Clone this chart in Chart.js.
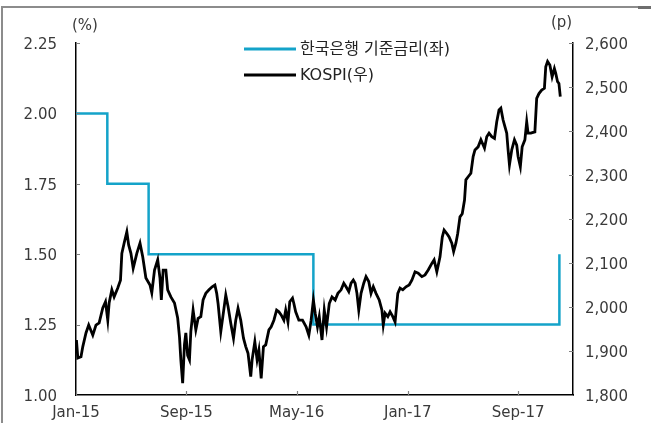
<!DOCTYPE html>
<html>
<head>
<meta charset="utf-8">
<script src="https://cdn.jsdelivr.net/npm/chart.js@4/dist/chart.umd.min.js"></script>
<style>
  html,body{margin:0;padding:0;background:#fff;}
  #wrap{position:relative;width:651px;height:423px;overflow:hidden;}
  #c{position:absolute;left:0;top:0;}
  .frameTop{position:absolute;left:1px;top:6px;width:650px;height:2px;background:#8c8c8c;}
  .frameTopR{position:absolute;left:638px;top:6px;width:13px;height:3px;background:#6e6e6e;}
  .frameLeft{position:absolute;left:1px;top:6px;width:2px;height:417px;background:#8c8c8c;}
</style>
</head>
<body>
<div id="wrap">
  <canvas id="c" width="651" height="423"></canvas>
  <div class="frameTop"></div><div class="frameTopR"></div><div class="frameLeft"></div>
</div>
<script>
// x values are days since 1 Jan 2015
const tickDays   = [0, 243, 486, 731, 974];
const tickLabels = ['Jan-15', 'Sep-15', 'May-16', 'Jan-17', 'Sep-17'];

const rateLabel  = '한국은행 기준금리(좌)';
const rateDays   = [0, 69, 69, 160, 160, 523, 523, 1065, 1065];
const rateValues = [2.00, 2.00, 1.75, 1.75, 1.50, 1.50, 1.25, 1.25, 1.50];

const kospiLabel = 'KOSPI(우)';
const kospiDays = [
  1,4,11,15,22,28,37,44,51,59,65,70,73,79,84,92,98,101,106,112,116,121,126,134,141,147,154,163,167,173,180,185,188,192,198,202,209,217,224,228,231,235,239,242,246,250,
  253,258,264,269,275,280,286,293,300,306,310,313,319,325,330,335,341,347,352,357,363,369,374,379,385,388,394,399,403,408,413,418,425,430,436,442,447,452,458,462,467,471,477,480,484,491,
  499,507,513,518,523,527,532,536,542,547,552,558,564,571,577,584,590,595,601,606,611,615,619,623,628,634,639,645,650,655,661,668,674,677,681,687,692,698,703,709,714,720,727,734,
  740,747,754,762,769,776,784,789,795,802,807,811,817,822,828,832,837,841,846,851,856,859,864,870,875,879,886,892,900,905,910,
  916,922,927,932,936,941,945,949,952,955,960,966,971,974,979,983,989,993,996,1002,1011,1015,1020,1026,1032,1035,1039,1044,1049,1054,1057,1061,1064,1067
];
const kospiValues = [
  1925,1884,1887,1910,1941,1959,1936,1959,1964,1998,2012,1970,2009,2039,2023,2043,2061,2122,2145,2171,2141,2122,2088,2122,2145,2114,2066,2050,2032,2084,2107,2066,2016,2084,2084,2039,2023,2009,1975,1932,1880,1827,1915,1941,1890,1880,
  1944,1993,1948,1974,1978,2016,2031,2039,2046,2050,2031,2008,1944,1989,2027,2001,1963,1929,1970,1997,1970,1929,1910,1895,1842,1880,1921,1880,1902,1838,1910,1914,1948,1955,1970,1993,1989,1982,1970,1993,1966,2012,2020,2008,1989,1970,
  1970,1955,1936,1970,2016,1986,1955,1978,1925,1993,1955,2008,2023,2016,2031,2039,2054,2046,2035,2054,2061,2054,2031,1993,2031,2054,2069,2058,2031,2046,2031,2016,1993,1959,1986,1978,1989,1978,1966,2031,2043,2039,2046,2050,
  2061,2080,2077,2069,2073,2084,2099,2107,2080,2114,2159,2175,2167,2159,2145,2126,2145,2167,2205,2212,2243,2289,2296,2304,2342,2357,2364,2380,2361,2387,2395,
  2387,2383,2421,2448,2452,2425,2410,2395,2357,2323,2357,2380,2368,2342,2319,2364,2380,2421,2395,2395,2398,2474,2485,2493,2497,2546,2558,2550,2523,2542,2531,2512,2508,2478
];

const FONT = '"DejaVu Sans", "Noto Sans CJK KR", sans-serif';
const LEGEND_FONT = '"DejaVu Sans", "Noto Sans CJK KR", sans-serif';
const BLUE = '#14a3c9';
const TXT = '#3a3a3a';

const decor = {
  id: 'decor',
  afterDraw(chart) {
    const ctx = chart.ctx;
    const {left, right, top, bottom} = chart.chartArea;
    const yl = chart.scales.y, yr = chart.scales.y1, xs = chart.scales.x;
    ctx.save();
    ctx.strokeStyle = '#808080';
    ctx.lineWidth = 1.2;
    ctx.beginPath();
    yl.ticks.forEach(t => { const p = Math.round(yl.getPixelForValue(t.value)) + 0.5; ctx.moveTo(left, p); ctx.lineTo(left + 4, p); });
    yr.ticks.forEach(t => { const p = Math.round(yr.getPixelForValue(t.value)) + 0.5; ctx.moveTo(right, p); ctx.lineTo(right - 4, p); });
    xs.ticks.forEach(t => { const p = Math.round(xs.getPixelForValue(t.value)) + 0.5; ctx.moveTo(p, bottom); ctx.lineTo(p, bottom - 4); });
    ctx.stroke();
    // axis unit titles
    ctx.fillStyle = TXT;
    ctx.font = '15px ' + FONT;
    ctx.textBaseline = 'middle';
    ctx.textAlign = 'left';
    ctx.fillText('(%)', 72, 26);
    ctx.fillText('(p)', 551, 23);
    // legend
    ctx.font = '16px ' + LEGEND_FONT;
    const ds = chart.data.datasets;
    const items = [ds[1], ds[0]];
    items.forEach((d, i) => {
      const y = 49 + i * 26;
      ctx.strokeStyle = d.borderColor;
      ctx.lineWidth = 3;
      ctx.beginPath(); ctx.moveTo(244, y); ctx.lineTo(296, y); ctx.stroke();
      ctx.fillStyle = '#222';
      ctx.fillText(d.label, 300, y + 1);
    });
    ctx.restore();
  }
};

new Chart(document.getElementById('c'), {
  type: 'line',
  data: {
    datasets: [
      {
        label: kospiLabel,
        data: kospiDays.map((d, i) => ({x: d, y: kospiValues[i]})),
        yAxisID: 'y1',
        borderColor: '#000',
        borderWidth: 2.8,
        pointRadius: 0,
        tension: 0,
        order: 0
      },
      {
        label: rateLabel,
        data: rateDays.map((d, i) => ({x: d, y: rateValues[i]})),
        yAxisID: 'y',
        borderColor: BLUE,
        borderWidth: 2.5,
        pointRadius: 0,
        tension: 0,
        order: 1
      }
    ]
  },
  options: {
    responsive: false,
    animation: false,
    devicePixelRatio: 1,
    layout: {padding: {top: 43, left: 0, right: 0, bottom: 0}},
    plugins: {legend: {display: false}, tooltip: {enabled: false}},
    scales: {
      x: {
        type: 'linear',
        min: 0,
        max: 1095,
        afterBuildTicks: s => { s.ticks = tickDays.map(v => ({value: v})); },
        afterFit: s => { s.height = 28; },
        grid: {display: false, drawTicks: false},
        border: {display: true, color: '#000', width: 1.5},
        ticks: {
          autoSkip: false, maxRotation: 0, padding: 9,
          color: TXT, font: {family: FONT, size: 15},
          callback: v => { const i = tickDays.indexOf(v); return i >= 0 ? tickLabels[i] : ''; }
        }
      },
      y: {
        position: 'left',
        min: 1.0, max: 2.25,
        afterFit: s => { s.width = 76; },
        grid: {display: false, drawTicks: false},
        border: {display: true, color: '#000', width: 1.5},
        ticks: {stepSize: 0.25, padding: 19, labelOffset: 2, color: TXT, font: {family: FONT, size: 15},
                callback: v => Number(v).toFixed(2)}
      },
      y1: {
        position: 'right',
        min: 1800, max: 2600,
        afterFit: s => { s.width = 78; },
        grid: {display: false, drawTicks: false},
        border: {display: true, color: '#000', width: 1.5},
        ticks: {stepSize: 100, padding: 12, labelOffset: 2, color: TXT, font: {family: FONT, size: 15},
                callback: v => Number(v).toLocaleString('en-US')}
      }
    }
  },
  plugins: [decor]
});
</script>
</body>
</html>
